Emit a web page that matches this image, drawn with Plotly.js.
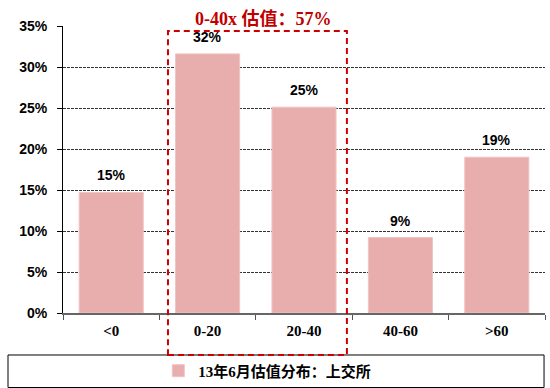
<!DOCTYPE html>
<html><head><meta charset="utf-8">
<script src="https://cdn.plot.ly/plotly-3.0.1.min.js"></script>
<style>html,body{margin:0;padding:0;background:#fff}</style>
</head><body>
<div id="chart" style="width:550px;height:388px"></div>
<script>
const categories = ["<0", "0-20", "20-40", "40-60", ">60"];
const values = [14.7, 31.6, 25.1, 9.2, 19.0];
const valueLabels = ["15%", "32%", "25%", "9%", "19%"];
const seriesName = "13年6月估值分布：上交所";
const highlightText = "0-40x 估值：57%";
const yTickVals = [0, 5, 10, 15, 20, 25, 30, 35];
const yTickText = ["0%", "5%", "10%", "15%", "20%", "25%", "30%", "35%"];

const trace = {
  type: "bar",
  x: categories,
  y: values,
  name: seriesName,
  marker: {color: "#e8adad", line: {color: "#f0c4c4", width: 1}},
  hoverinfo: "none",
  showlegend: true
};

const labelAnnotations = categories.map((c, i) => ({
  x: c, y: values[i], xref: "x", yref: "y",
  text: valueLabels[i], showarrow: false,
  yanchor: "middle", yshift: 17,
  font: {family: "Liberation Sans, Arial, sans-serif", size: 14, weight: "bold", color: "#000"}
}));

const layout = {
  width: 550, height: 388,
  margin: {l: 63, r: 5, t: 26, b: 75},
  paper_bgcolor: "#fff", plot_bgcolor: "#fff",
  bargap: 0.335,
  xaxis: {
    type: "category",
    tickson: "boundaries",
    ticks: "outside", ticklen: 5, tickcolor: "#555",
    ticklabelstandoff: 3,
    showline: true, linecolor: "#666", linewidth: 1.5,
    showgrid: false,
    tickfont: {family: "Liberation Serif, Times New Roman, serif", size: 15, weight: "bold", color: "#000"},
    fixedrange: true
  },
  yaxis: {
    range: [0, 35],
    tickvals: yTickVals, ticktext: yTickText,
    ticks: "outside", ticklen: 5, tickcolor: "#000",
    ticklabelstandoff: 7,
    showline: true, linecolor: "#000", linewidth: 1,
    showgrid: true, gridcolor: "#000", gridwidth: 0.8, griddash: "3px,1px",
    zeroline: false,
    tickfont: {family: "Liberation Sans, Arial, sans-serif", size: 14, weight: "bold", color: "#000"},
    fixedrange: true
  },
  showlegend: true,
  legend: {
    orientation: "h", xref: "container", yref: "container",
    x: 0.486, xanchor: "center", y: 0.044, yanchor: "middle",
    bgcolor: "rgba(0,0,0,0)",
    itemwidth: 30,
    font: {family: "Liberation Serif, Noto Sans CJK SC, serif", size: 15, weight: "bold", color: "#000"}
  },
  shapes: [
    {type: "rect", xref: "paper", yref: "paper",
     x0: -0.1141, x1: 0.998, y0: -0.2596, y1: -0.1463,
     line: {color: "#000", width: 1}, fillcolor: "rgba(0,0,0,0)", layer: "below"},
    {type: "rect", xref: "paper", yref: "paper",
     x0: 0.2178, x1: 0.589, y0: -0.1463, y1: 0.9826,
     line: {color: "#cc0000", width: 2, dash: "6px,4px"}, fillcolor: "rgba(0,0,0,0)", layer: "above"}
  ],
  annotations: labelAnnotations.concat([{
    xref: "paper", yref: "paper", x: 0.417, y: 1.024,
    text: highlightText, showarrow: false, xanchor: "center", yanchor: "middle",
    font: {family: "Liberation Serif, Noto Sans CJK SC, serif", size: 18, weight: "bold", color: "#c00000"}
  }])
};

Plotly.newPlot("chart", [trace], layout, {displayModeBar: false, staticPlot: true});
</script>
</body></html>
